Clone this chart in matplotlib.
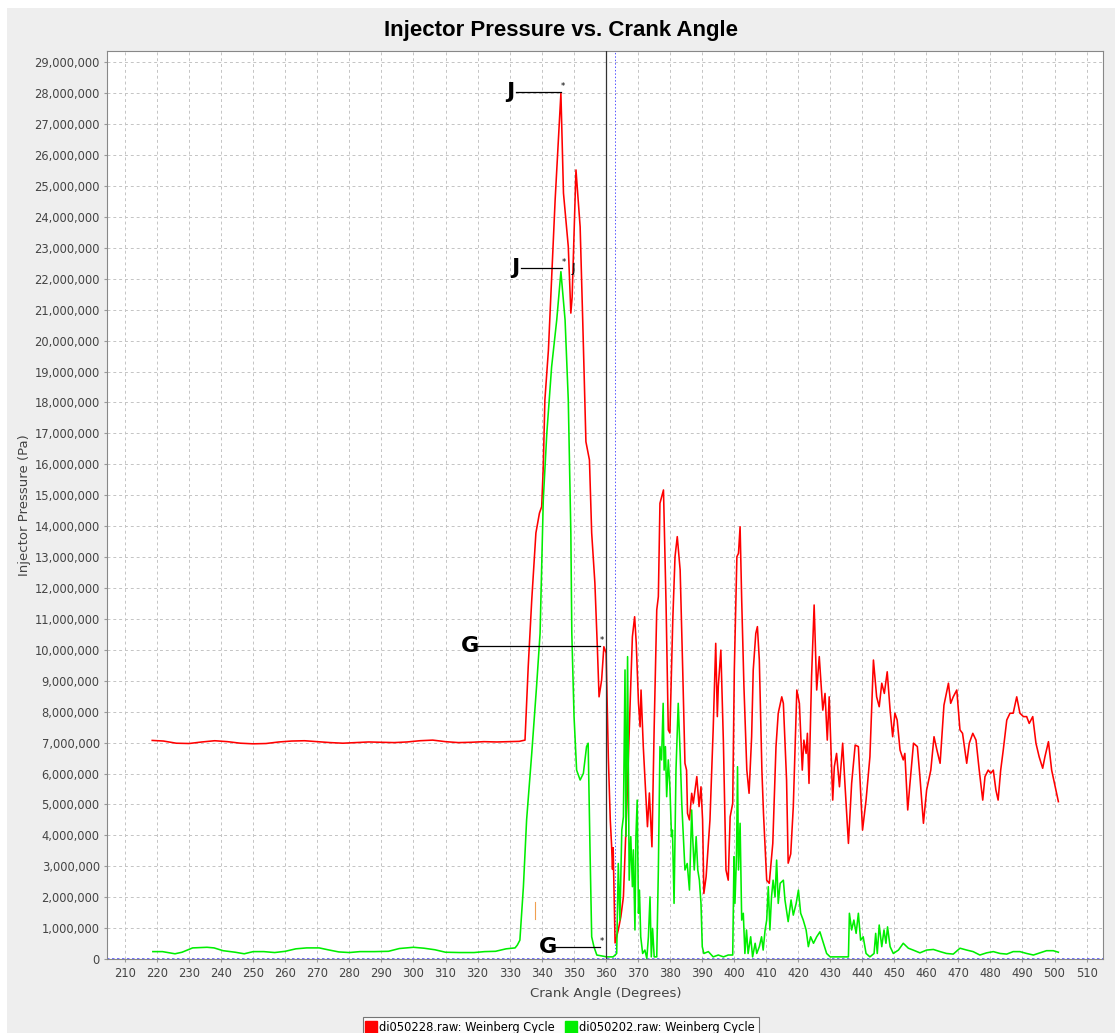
import numpy as np
import matplotlib.pyplot as plt
from matplotlib.lines import Line2D
from matplotlib.patches import Rectangle
from matplotlib.ticker import FuncFormatter, MultipleLocator

# Crank angle (deg) and injector pressure (MPa)
red_deg = [218.5, 222, 226, 230, 234, 238, 242, 246, 250, 254, 258, 262, 266, 270, 274, 278,
           282, 286, 290, 294, 298, 302, 306, 310, 314, 318, 322, 326, 330, 333, 334.8,
           335.8, 336.9, 338.2, 339.3, 340.0, 340.5, 341.0, 342.1, 342.8, 344.2, 346.0,
           346.8, 348.3, 349.1, 349.5, 350.7, 352.0, 352.8, 353.8, 354.9, 355.6, 356.6,
           357.4, 357.9, 358.7, 359.4, 360.1, 360.8, 361.4, 361.8, 362.1, 362.3, 362.9,
           363.9, 364.7, 365.5, 366.6, 367.6, 368.3, 369.0, 369.5, 370.2, 370.7, 371.0,
           371.7, 372.6, 373.0, 373.6, 374.4, 375.1, 375.9, 376.4, 376.9, 378.0, 378.8,
           379.5, 380.0, 380.9, 381.6, 382.3, 383.2, 384.0, 384.7, 385.2, 385.5, 386.1,
           386.8, 387.3, 388.4, 389.1, 389.7, 390.2, 390.6, 391.3, 392.5, 393.5, 394.3,
           394.8, 395.1, 395.9, 396.7, 397.5, 398.2, 398.8, 399.6, 400.1, 400.9, 401.4,
           401.9, 402.4, 403.1, 404.0, 404.7, 405.5, 406.0, 406.8, 407.3, 407.9, 408.7,
           409.2, 410.2, 411.0, 412.1, 413.1, 413.8, 414.9, 415.4, 416.4, 416.9, 417.7,
           418.5, 419.6, 420.4, 421.3, 421.8, 422.5, 422.9, 423.4, 424.2, 425.0, 425.8,
           426.6, 427.7, 428.4, 429.1, 429.7, 430.8, 431.3, 432.0, 432.9, 433.9, 434.6,
           435.7, 436.7, 437.8, 438.8, 440.1, 441.2, 442.4, 443.5, 444.5, 445.3, 446.1,
           446.9, 447.8, 448.7, 449.5, 450.2, 450.9, 451.8, 452.8, 453.3, 454.2, 454.9,
           456.0, 457.2, 458.0, 459.1, 460.1, 461.4, 462.4, 463.3, 464.3, 465.5, 466.9,
           467.6, 468.4, 469.5, 470.5, 471.3, 472.6, 473.4, 474.5, 475.5, 476.5, 477.6,
           478.3, 479.3, 480.1, 480.9, 481.7, 482.4, 483.2, 484.0, 485.1, 486.1, 487.1,
           488.2, 489.2, 490.3, 491.3, 492.1, 493.2, 494.2, 495.2, 496.3, 497.0, 498.1,
           499.1, 500.2, 501.2]
red_mpa = [7.07, 7.05, 6.98, 6.97, 7.02, 7.06, 7.03, 6.98, 6.96, 6.97, 7.02, 7.05, 7.06, 7.03,
           7.0, 6.98, 7.0, 7.02, 7.01, 7.0, 7.02, 7.06, 7.08, 7.03, 7.0, 7.01, 7.03, 7.02,
           7.03, 7.04, 7.08,
           9.45, 11.61, 13.78, 14.42, 14.63, 15.92, 18.08, 19.69, 21.31, 24.55, 28.0,
           24.77, 23.04, 20.89, 21.4, 25.52, 23.68, 20.67, 16.73, 16.14, 13.78, 12.16,
           9.99, 8.48, 9.02, 10.1, 9.9, 6.5, 4.5, 3.7, 2.9, 3.6, 0.52,
           0.94, 1.37, 2.01, 5.05, 8.28, 10.42, 11.07, 10.22, 8.28, 7.51, 8.70,
           6.87, 5.05, 4.28, 5.37, 3.63, 7.51, 11.29, 11.72, 14.74, 15.17, 11.5,
           7.41, 7.31, 10.96, 13.01, 13.66, 12.58, 9.35, 6.33, 6.11, 4.71, 4.50,
           5.36, 5.04, 5.90, 4.93, 5.57, 4.50, 2.12, 2.66, 4.50, 7.41, 10.21,
           7.84, 8.81, 9.99, 6.98, 2.88, 2.55, 4.60, 5.04, 9.35, 13.01, 13.12,
           13.98, 11.61, 8.81, 6.11, 5.36, 7.19, 9.35, 10.53, 10.75, 9.67, 6.11,
           4.71, 2.55, 2.45, 3.74, 6.87, 7.95, 8.48, 8.27, 5.79, 3.10, 3.40,
           4.93, 8.70, 8.27, 6.11, 7.08, 6.65, 7.30, 5.68, 9.13, 11.45, 8.70,
           9.78, 8.05, 8.59, 7.08, 8.48, 5.14, 6.22, 6.65, 5.57, 6.98, 5.68,
           3.74, 5.68, 6.92, 6.87, 4.17, 5.14, 6.54, 9.67, 8.48, 8.16, 8.92,
           8.59, 9.29, 8.05, 7.19, 7.95, 7.73, 6.76, 6.44, 6.65, 4.82, 5.68,
           6.98, 6.87, 5.90, 4.39, 5.47, 6.11, 7.19, 6.76, 6.33, 8.21, 8.92,
           8.27, 8.48, 8.70, 7.41, 7.30, 6.33, 6.98, 7.30, 7.08, 6.11, 5.14,
           5.90, 6.11, 6.01, 6.11, 5.47, 5.14, 6.11, 6.76, 7.73, 7.95, 7.95,
           8.48, 7.95, 7.84, 7.84, 7.62, 7.84, 6.98, 6.54, 6.17, 6.54, 7.03,
           6.11, 5.57, 5.09]

green_deg = [218.7, 221.7, 225.6, 227.8, 231.1, 235.6, 237.8, 240.6, 244.4, 247.2, 250.0,
             253.3, 256.7, 260.0, 263.3, 266.7, 270.6, 273.3, 276.7, 280.0, 283.3, 287.8,
             292.2, 295.6, 300.0, 303.3, 306.7, 310.0, 314.4, 318.9, 322.2, 325.6, 328.9,
             331.7, 332.4, 333.2, 334.3, 335.3, 336.9, 338.4, 339.5, 340.5, 341.6, 343.1,
             344.7, 346.0, 347.3, 348.3, 349.1, 349.4, 350.1, 350.9, 352.0, 353.0, 354.0,
             354.5, 355.1, 355.6, 356.3, 357.2, 360.3, 362.3, 363.4, 363.9, 364.4, 365.0,
             365.5, 366.0, 366.3, 366.8, 367.3, 367.8, 368.3, 368.6, 369.1, 369.4, 369.8,
             370.2, 370.5, 370.9, 371.5, 372.2, 372.8, 373.3, 373.8, 374.2, 374.6, 375.1,
             375.9, 376.4, 376.9, 377.4, 377.9, 378.2, 378.6, 379.0, 379.5, 380.0, 380.5,
             380.8, 381.3, 381.9, 382.6, 383.2, 383.7, 384.2, 384.7, 385.4, 386.1, 386.8,
             387.1, 387.6, 388.2, 388.7, 389.2, 389.7, 390.1, 390.6, 392.0, 393.5, 395.1,
             396.7, 398.2, 399.6, 400.0, 400.3, 400.8, 401.1, 401.4, 401.9, 402.4, 402.9,
             403.4, 403.9, 404.4, 405.2, 405.8, 406.6, 407.1, 407.9, 408.6, 409.1, 409.7,
             410.2, 410.7, 411.2, 411.7, 412.2, 412.8, 413.3, 413.8, 414.4, 415.4, 415.9,
             416.9, 417.8, 418.5, 419.4, 420.1, 420.8, 421.6, 422.5, 423.2, 423.9, 424.8,
             425.8, 426.8, 427.9, 428.9, 430.0, 432.0, 434.1, 435.7, 436.0, 436.7, 437.4,
             438.1, 438.8, 439.5, 440.3, 441.2, 442.4, 443.7, 444.2, 444.7, 445.3, 446.1,
             446.8, 447.4, 447.9, 448.7, 449.7, 451.3, 452.8, 454.4, 455.9, 458.0, 460.1,
             462.2, 464.3, 466.3, 468.4, 470.5, 472.6, 474.6, 476.7, 478.8, 480.9, 483.0,
             485.1, 487.1, 489.2, 491.3, 493.4, 495.5, 497.5, 499.6, 501.2]
green_mpa = [0.24, 0.24, 0.17, 0.22, 0.36, 0.38, 0.36, 0.27, 0.22, 0.17, 0.24,
             0.24, 0.21, 0.25, 0.33, 0.36, 0.36, 0.30, 0.23, 0.21, 0.24, 0.24,
             0.25, 0.34, 0.38, 0.35, 0.30, 0.22, 0.21, 0.21, 0.24, 0.25, 0.33,
             0.36, 0.45, 0.61, 2.34, 4.50, 6.65, 8.81, 10.53, 14.84, 17.0, 19.15,
             20.67, 22.23, 20.67, 18.08, 13.77, 10.53, 7.84, 6.11, 5.79, 6.0, 6.87,
             6.98, 3.42, 0.72, 0.40, 0.13, 0.07, 0.07, 0.18, 3.09, 1.26, 4.17,
             4.60, 9.35, 3.96, 9.78, 2.55, 3.96, 2.34, 3.53, 0.94, 3.96, 5.14,
             1.48, 2.23, 0.72, 0.18, 0.29, 0.02, 0.72, 2.01, 0.07, 0.99, 0.07,
             0.07, 2.88, 6.87, 6.44, 8.27, 6.11, 6.87, 5.25, 6.44, 5.57, 3.96,
             4.17, 1.80, 6.11, 8.27, 6.65, 5.04, 3.96, 2.88, 3.09, 2.23, 4.82,
             3.96, 2.88, 3.96, 2.88, 2.55, 1.80, 0.40, 0.18, 0.24, 0.07, 0.13,
             0.07, 0.13, 0.13, 3.31, 1.80, 3.42, 6.22, 2.88, 4.39, 1.26, 1.48,
             0.18, 0.94, 0.18, 0.72, 0.07, 0.51, 0.18, 0.40, 0.72, 0.29, 0.94,
             1.26, 2.34, 0.94, 2.01, 2.55, 2.01, 3.20, 1.80, 2.45, 2.55, 1.91,
             1.21, 1.91, 1.42, 1.80, 2.23, 1.48, 1.26, 0.94, 0.40, 0.72, 0.51,
             0.72, 0.88, 0.51, 0.18, 0.07, 0.07, 0.07, 0.07, 1.48, 0.94, 1.26,
             0.83, 1.48, 0.61, 0.72, 0.18, 0.07, 0.18, 0.83, 0.18, 1.10, 0.40,
             0.94, 0.51, 1.04, 0.40, 0.18, 0.29, 0.51, 0.35, 0.29, 0.20, 0.29,
             0.31, 0.24, 0.18, 0.16, 0.35, 0.29, 0.24, 0.13, 0.20, 0.24, 0.18,
             0.16, 0.24, 0.24, 0.18, 0.13, 0.20, 0.27, 0.27, 0.22]

series_labels = ['di050228.raw: Weinberg Cycle', 'di050202.raw: Weinberg Cycle']
series_colors = ['#ff0000', '#00ee00']

# Marker labels (J = peak, G = marked point): text x, point x, y in MPa
marks = [('J', 330.1, 346.0, 28.03),
         ('J', 331.7, 346.2, 22.34),
         ('G', 317.6, 358.2, 10.12),
         ('G', 342.0, 358.2, 0.38)]

fig = plt.figure(figsize=(11.17, 10.33), dpi=100, facecolor='white')
fig.patches.append(Rectangle((7 / 1117, 0), 1108 / 1117, 1 - 8 / 1033, transform=fig.transFigure,
                             facecolor='#eeeeee', edgecolor='none', zorder=-10))
ax = fig.add_axes([0.0961, 0.0716, 0.8916, 0.8793])
ax.set_facecolor('white')

ax.plot(red_deg, np.array(red_mpa) * 1e6, color=series_colors[0], lw=1.15, zorder=3)
ax.plot(green_deg, np.array(green_mpa) * 1e6, color=series_colors[1], lw=1.15, zorder=3)

# crosshair lines
ax.axvline(360, color='#333333', lw=0.9, zorder=4)
ax.axvline(363, color='#5555ff', lw=0.7, ls=(0, (1.5, 2)), zorder=2)
ax.axhline(0, color='#5555ff', lw=1.2, ls=(0, (1.5, 1.5)), zorder=2)

for lab, tx, px, py in marks:
    ax.plot([tx + 2.0, px], [py * 1e6, py * 1e6], color='black', lw=0.9, zorder=5)
    ax.text(px + 0.6, py * 1e6 + 0.05e6, '*', fontsize=6, ha='center', va='bottom', zorder=6)
    ax.text(tx, py * 1e6, lab, fontsize=16, fontweight='bold',
            family=['Liberation Sans Narrow', 'DejaVu Sans'], ha='center', va='center', zorder=6)
ax.text(349.8, 22.34e6, 'J', fontsize=9, ha='center', va='center', zorder=6)
ax.plot([337.9, 337.9], [1.3e6, 1.85e6], color='#f0a050', lw=0.8, zorder=5)

ax.set_xlim(204.5, 515.2)
ax.set_ylim(0, 29.375e6)
ax.xaxis.set_major_locator(MultipleLocator(10))
ax.yaxis.set_major_locator(MultipleLocator(1e6))
ax.yaxis.set_major_formatter(FuncFormatter(lambda v, p: f'{int(round(v)):,}'))
ax.grid(True, color='#c4c4c4', ls=(0, (3, 3)), lw=0.7)
ax.set_axisbelow(True)
ax.tick_params(labelsize=8.3, labelcolor='#444444', color='#999999', length=2)
for s in ax.spines.values():
    s.set_color('#888888')

ax.set_xlabel('Crank Angle (Degrees)', fontsize=9.5, color='#444444', labelpad=5)
ax.set_ylabel('Injector Pressure (Pa)', fontsize=9.5, color='#444444', labelpad=2)
fig.text(0.502, 0.9705, 'Injector Pressure vs. Crank Angle', fontsize=16, fontweight='bold',
         family='Liberation Sans', ha='center', va='center')

handles = [Line2D([], [], marker='s', ls='none', color=c, markersize=8.5) for c in series_colors]
leg = fig.legend(handles, series_labels, loc='upper center', bbox_to_anchor=(0.502, 0.0213),
                 ncol=2, fontsize=8.3, frameon=True, fancybox=False, edgecolor='#555555',
                 handletextpad=0.3, columnspacing=1.0, borderpad=0.35, handlelength=0.8)
leg.get_frame().set_linewidth(0.8)

plt.savefig('out.png', dpi=100, facecolor=fig.get_facecolor())
